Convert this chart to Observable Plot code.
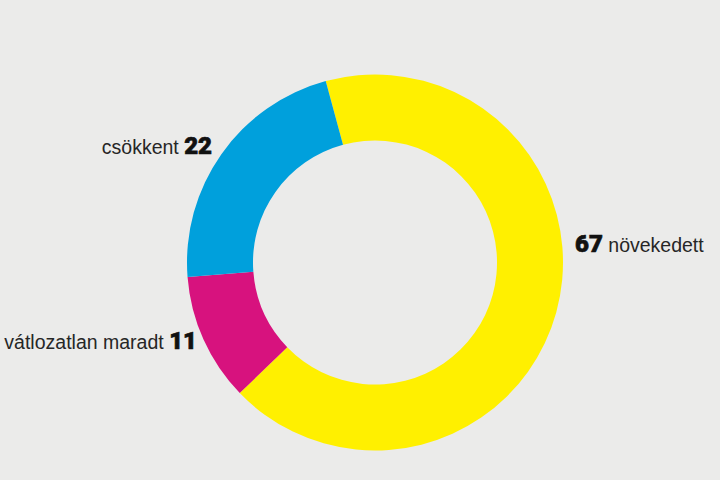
<!DOCTYPE html>
<html>
<head>
<meta charset="utf-8">
<script src="https://cdn.jsdelivr.net/npm/d3@7"></script>
<script src="https://cdn.jsdelivr.net/npm/@observablehq/plot@0.6"></script>
<style>
  html, body { margin: 0; padding: 0; background: #ebebea; }
  #chart { width: 720px; height: 480px; }
</style>
</head>
<body>
<div id="chart"></div>
<script>
// Data
const categories = ["növekedett", "vátlozatlan maradt", "csökkent"];
const values = [67, 11, 22];
const colors = ["#fff000", "#d7127e", "#00a0dc"];

// Layout (data units: radius 1 = outer ring)
const innerRatio = 0.649;
const startDeg = -15.2;
const labelPos = [
  {x: 1.064, y: 0.077, anchor: "start"},
  {x: -0.947, y: -0.444, anchor: "end"},
  {x: -0.867, y: 0.598, anchor: "end"}
];

const table = categories.map((c, i) => ({category: c, value: values[i], color: colors[i], ...labelPos[i]}));

const pie = d3.pie().sort(null).value(d => d.value)
  .startAngle(startDeg * Math.PI / 180)
  .endAngle((startDeg + 360) * Math.PI / 180);
const arcs = pie(table);

function donutMark(index, scales, values, dimensions) {
  const cx = scales.x(0), cy = scales.y(0);
  const R = scales.x(1) - scales.x(0);
  const arc = d3.arc().innerRadius(R * innerRatio).outerRadius(R);
  const g = d3.create("svg:g").attr("transform", `translate(${cx},${cy})`);
  g.selectAll("path").data(arcs).join("path")
    .attr("d", arc)
    .attr("fill", d => d.data.color);
  return g.node();
}

function labelMark(index, scales) {
  const g = d3.create("svg:g");
  table.forEach(d => {
    const t = g.append("text")
      .attr("x", scales.x(d.x))
      .attr("y", scales.y(d.y))
      .attr("dy", "0.35em")
      .attr("text-anchor", d.anchor)
      .attr("fill", "#262626")
      .style("font-family", "'Liberation Sans', Arial, sans-serif");
    const word = () => t.append("tspan").attr("font-size", 19.5).attr("font-weight", 400).text(d.category);
    const num = () => t.append("tspan").attr("font-size", 24).attr("font-weight", 900)
      .style("font-family", "Roboto, 'Liberation Sans', sans-serif")
      .attr("fill", "#111").attr("stroke", "#111").attr("stroke-width", 0.7)
      .text(String(d.value));
    if (d.anchor === "start") { num(); t.append("tspan").attr("font-size", 19.5).text(" "); word(); }
    else { word(); t.append("tspan").attr("font-size", 19.5).text(" "); num(); }
  });
  return g.node();
}

const chart = Plot.plot({
  width: 720,
  height: 480,
  marginLeft: 187,
  marginRight: 157,
  marginTop: 74.5,
  marginBottom: 29.5,
  style: {background: "#ebebea"},
  x: {domain: [-1, 1], axis: null},
  y: {domain: [-1, 1], axis: null},
  marks: [
    Plot.dot(table, {x: "x", y: "y", r: 0, fill: "none", stroke: "none"}),
    donutMark,
    labelMark
  ]
});
document.getElementById("chart").append(chart);
</script>
</body>
</html>
